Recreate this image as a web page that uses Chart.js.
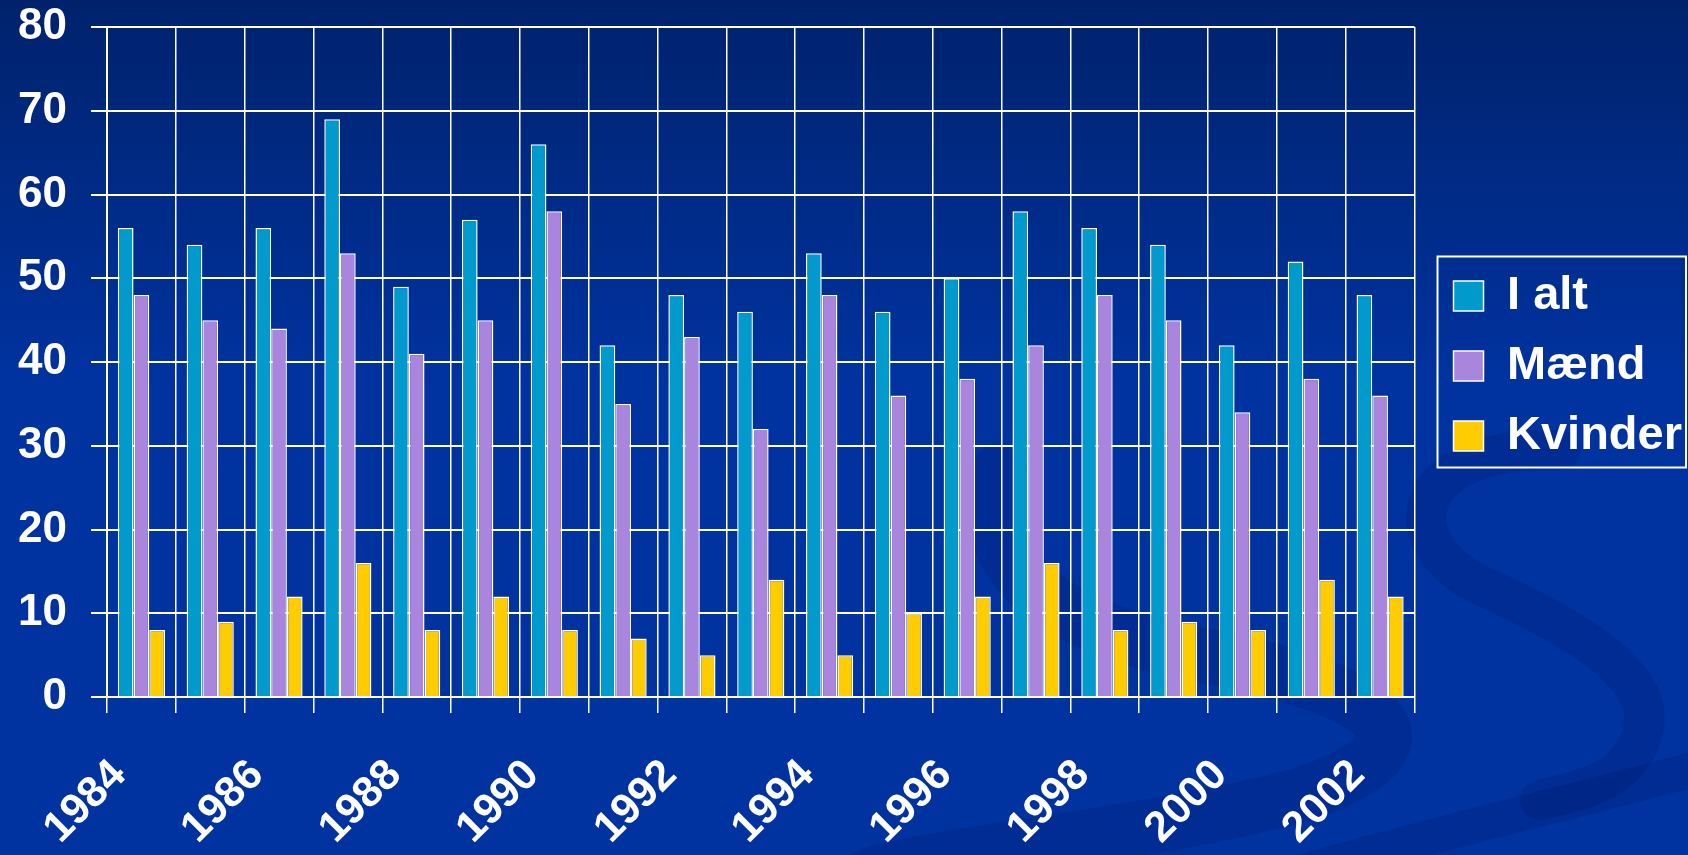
<!DOCTYPE html>
<html>
<head>
<meta charset="utf-8">
<title>I alt, Mænd, Kvinder 1984-2002</title>
<script src="https://cdn.jsdelivr.net/npm/chart.js@4.4.1/dist/chart.umd.min.js"></script>
<style>
    html, body { margin: 0; padding: 0; background: #0033a0; }
    #wrap { width: 1688px; height: 855px; }
</style>
</head>
<body>
<div id="wrap"><canvas id="chart"></canvas></div>
<script>
// Data
const years = ['1984', '1985', '1986', '1987', '1988', '1989', '1990', '1991', '1992', '1993',
               '1994', '1995', '1996', '1997', '1998', '1999', '2000', '2001', '2002'];
const shownYears = ['1984', '1986', '1988', '1990', '1992', '1994', '1996', '1998', '2000', '2002'];
const iAlt    = [56, 54, 56, 69, 49, 57, 66, 42, 48, 46, 53, 46, 50, 58, 56, 54, 42, 52, 48];
const maend   = [48, 45, 44, 53, 41, 45, 58, 35, 43, 32, 48, 36, 38, 42, 48, 45, 34, 38, 36];
const kvinder = [ 8,  9, 12, 16,  8, 12,  8,  7,  5, 14,  5, 10, 12, 16,  8,  9,  8, 14, 12];
const yTickValues = [0, 10, 20, 30, 40, 50, 60, 70, 80];

const FONT = '"Liberation Sans", Arial, Helvetica, sans-serif';

// Slide background: blue gradient with a faint darker swirl
const backdrop = {
    id: 'backdrop',
    beforeDraw(chart) {
        const ctx = chart.ctx;
        const w = chart.width, h = chart.height;
        ctx.save();
        const g = ctx.createLinearGradient(0, 0, 0, h);
        g.addColorStop(0, '#00226c');
        g.addColorStop(0.45, '#0033a0');
        g.addColorStop(1, '#0033a0');
        ctx.fillStyle = g;
        ctx.fillRect(0, 0, w, h);

        ctx.lineCap = 'round';
        ctx.strokeStyle = 'rgba(0, 25, 100, 0.22)';

        // loop on the right, under the legend
        ctx.lineWidth = 40;
        ctx.beginPath();
        ctx.moveTo(1560, 450);
        ctx.bezierCurveTo(1410, 445, 1390, 540, 1480, 585);
        ctx.bezierCurveTo(1580, 630, 1665, 680, 1640, 740);
        ctx.bezierCurveTo(1625, 780, 1585, 790, 1540, 800);
        ctx.stroke();

        // sweep through the lower middle
        ctx.lineWidth = 55;
        ctx.beginPath();
        ctx.moveTo(1000, 470);
        ctx.bezierCurveTo(975, 560, 1040, 625, 1200, 655);
        ctx.bezierCurveTo(1390, 690, 1450, 745, 1300, 795);
        ctx.bezierCurveTo(1150, 835, 960, 850, 870, 875);
        ctx.stroke();

        // band along the bottom edge
        ctx.lineWidth = 35;
        ctx.beginPath();
        ctx.moveTo(1290, 875);
        ctx.bezierCurveTo(1450, 830, 1600, 795, 1710, 765);
        ctx.stroke();
        ctx.restore();
    }
};

// Nudge the legend to where the slide has it
const legendNudge = {
    id: 'legendNudge',
    afterLayout(chart) {
        const lg = chart.legend;
        lg.left += 16;
        lg.right += 16;
        lg.top += 4;
        lg.bottom += 4;
    }
};

// White frame around the legend items
const legendFrame = {
    id: 'legendFrame',
    afterDraw(chart) {
        const boxes = chart.legend.legendHitBoxes;
        if (!boxes || !boxes.length) return;
        const left = Math.min(...boxes.map(b => b.left)) - 16;
        const right = Math.min(Math.max(...boxes.map(b => b.left + b.width)) + 8, chart.width - 2);
        const top = boxes[0].top - 16;
        const last = boxes[boxes.length - 1];
        const bottom = last.top + last.height + 8;
        const ctx = chart.ctx;
        ctx.save();
        ctx.strokeStyle = '#ffffff';
        ctx.lineWidth = 2;
        ctx.strokeRect(left, top, right - left, bottom - top);
        ctx.restore();
    }
};

const barStyle = {
    borderColor: '#ffffff',
    borderWidth: 1.5,
    categoryPercentage: 0.685,
    barPercentage: 1.0
};

new Chart(document.getElementById('chart'), {
    type: 'bar',
    data: {
        labels: years,
        datasets: [
            Object.assign({ label: 'I alt', data: iAlt, backgroundColor: '#009acd' }, barStyle),
            Object.assign({ label: 'Mænd', data: maend, backgroundColor: '#a985dd' }, barStyle),
            Object.assign({ label: 'Kvinder', data: kvinder, backgroundColor: '#ffcc00' }, barStyle)
        ]
    },
    options: {
        responsive: true,
        maintainAspectRatio: false,
        devicePixelRatio: 1,
        animation: false,
        events: [],
        layout: { padding: { top: 27, right: 12, bottom: 0, left: 0 } },
        scales: {
            x: {
                grid: { color: '#ffffff', lineWidth: 1.5, tickLength: 16, offset: true },
                border: { color: '#ffffff', width: 2 },
                ticks: {
                    autoSkip: false,
                    minRotation: 45,
                    maxRotation: 45,
                    labelOffset: -22,
                    padding: 37,
                    color: '#ffffff',
                    font: { family: FONT, size: 43, weight: 'bold' },
                    callback: function (value, index) {
                        const label = years[index];
                        return shownYears.includes(label) ? label : '';
                    }
                },
                afterFit(scale) {
                    scale.height = 158;
                    scale.paddingLeft = 0;
                    scale.paddingRight = 0;
                }
            },
            y: {
                min: 0,
                max: 80,
                grid: { color: '#ffffff', lineWidth: 2, tickLength: 16 },
                border: { color: '#ffffff', width: 2 },
                ticks: {
                    color: '#ffffff',
                    padding: 24,
                    font: { family: FONT, size: 44, weight: 'bold' }
                },
                afterBuildTicks(scale) {
                    scale.ticks = yTickValues.map(v => ({ value: v }));
                },
                afterFit(scale) {
                    scale.width = 107;
                    scale.paddingTop = 0;
                    scale.paddingBottom = 0;
                }
            }
        },
        plugins: {
            legend: {
                position: 'right',
                fullSize: false,
                labels: {
                    color: '#ffffff',
                    boxWidth: 30,
                    boxHeight: 30,
                    padding: 23,
                    font: { family: FONT, size: 47, weight: 'bold' }
                }
            },
            tooltip: { enabled: false }
        }
    },
    plugins: [backdrop, legendNudge, legendFrame]
});
</script>
</body>
</html>
